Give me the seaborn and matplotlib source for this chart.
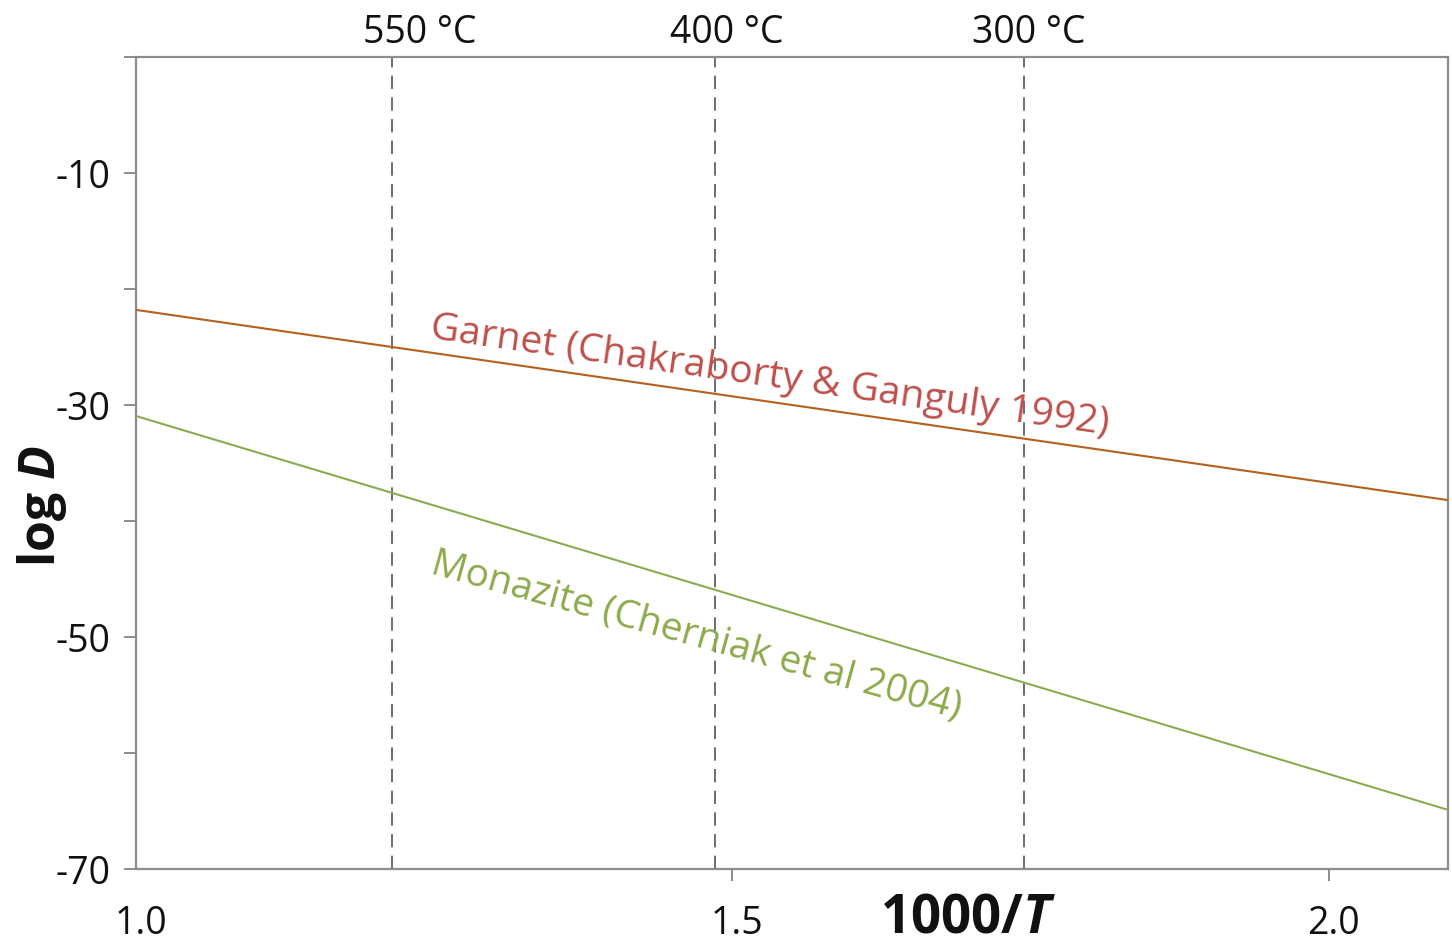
import matplotlib
matplotlib.use("Agg")
import matplotlib.pyplot as plt
import matplotlib.transforms as mtransforms
import pandas as pd
import seaborn as sns

# Arrhenius lines: log D against 1000/T
inv_T = [1.0, 2.1]
garnet_logD = [-21.8, -38.2]
monazite_logD = [-30.95, -64.9]
minerals = ["Garnet (Chakraborty & Ganguly 1992)", "Monazite (Cherniak et al 2004)"]

# reference temperatures marked with dashed lines
temps_C = [550, 400, 300]

y_ticks = [-70, -60, -50, -40, -30, -20, -10, 0]
y_labels = ["-70", "", "-50", "", "-30", "", "-10", ""]
x_ticks = [1.0, 1.5, 2.0]
x_labels = ["1.0", "1.5", "2.0"]

line_colors = ["#B5601C", "#8CAA50"]
text_colors = ["#BE504B", "#8DAA4B"]
axis_grey = "#8C8C8C"

sns.set_theme(style="white")
plt.rcParams["font.family"] = ["Open Sans", "DejaVu Sans"]
plt.rcParams["mathtext.fontset"] = "custom"
plt.rcParams["mathtext.rm"] = "Open Sans"
plt.rcParams["mathtext.it"] = "Open Sans:italic:bold"
plt.rcParams["mathtext.bf"] = "Open Sans:bold"

df = pd.DataFrame({
    "inv_T": inv_T * 2,
    "logD": garnet_logD + monazite_logD,
    "mineral": [minerals[0]] * len(inv_T) + [minerals[1]] * len(inv_T),
})

fig = plt.figure(figsize=(14.52, 9.48), dpi=100)
ax = fig.add_axes([136 / 1452, 1 - 869 / 948, 1312 / 1452, 812 / 948])

sns.lineplot(data=df, x="inv_T", y="logD", hue="mineral", palette=line_colors,
             linewidth=1.5, legend=False, ax=ax, zorder=3)

ax.set_xlim(1.0, 2.1)
ax.set_ylim(-70, 0)

# dashed isotherms with labels above the frame
label_shift_px = [27, 12, 4]
for t, dx in zip(temps_C, label_shift_px):
    xv = 1000.0 / (t + 273.15)
    ax.axvline(xv, color="#555555", lw=1.2, dashes=(8, 5), zorder=2)
    ax.annotate(f"{t} °C", xy=(xv, 1), xycoords=("data", "axes fraction"),
                xytext=(dx * 0.72, 10), textcoords="offset points",
                ha="center", va="baseline", fontsize=27, color="#111111",
                annotation_clip=False)

# in-line labels for each curve
ax.text(1.2456, -24.22, minerals[0], rotation=-8.1, rotation_mode="anchor",
        ha="left", va="baseline", fontsize=28.3, color=text_colors[0])
ax.text(1.2463, -44.48, minerals[1], rotation=-15.4, rotation_mode="anchor",
        ha="left", va="baseline", fontsize=28.0, color=text_colors[1])

ax.set_yticks(y_ticks)
ax.set_yticklabels(y_labels)
ax.set_xticks(x_ticks)
ax.set_xticklabels(x_labels)

ax.tick_params(axis="both", which="major", direction="out", length=8.6, width=1.4,
               color=axis_grey, labelsize=27, labelcolor="#111111")
ax.tick_params(axis="y", pad=10, left=True)
ax.tick_params(axis="x", pad=17, bottom=True)
ax.xaxis.get_major_ticks()[0].tick1line.set_visible(False)

shift = mtransforms.ScaledTranslation(5 / 100, 0, fig.dpi_scale_trans)
for lbl in ax.get_xticklabels():
    lbl.set_transform(lbl.get_transform() + shift)

for s in ax.spines.values():
    s.set_visible(True)
    s.set_color(axis_grey)
    s.set_linewidth(1.6)

ax.set_xlabel(r"1000/$T$", fontsize=38, fontweight="bold", color="#111111")
ax.xaxis.set_label_coords(0.634, -0.0788)
ax.xaxis.label.set_va("baseline")

ax.set_ylabel(r"log $D$", fontsize=36, fontweight="bold", color="#111111")
ax.yaxis.set_label_coords(-0.0617, 0.4464)
ax.yaxis.label.set_va("baseline")

fig.savefig("out.png", dpi=100, facecolor="white")
